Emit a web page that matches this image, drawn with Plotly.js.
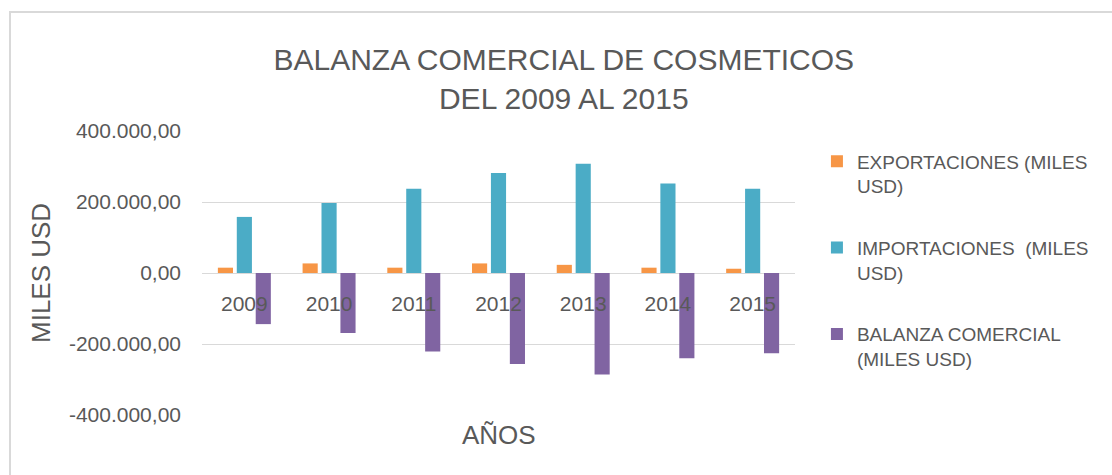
<!DOCTYPE html>
<html>
<head>
<meta charset="utf-8">
<script src="https://cdn.plot.ly/plotly-3.0.1.min.js"></script>
<style>
  html, body { margin: 0; padding: 0; background: #ffffff; }
  #chart { width: 1112px; height: 475px; }
</style>
</head>
<body>
<div id="chart"></div>
<script>
var years = ['2009', '2010', '2011', '2012', '2013', '2014', '2015'];
var exportaciones = [15000, 27000, 15000, 27000, 23000, 15000, 12000];
var importaciones = [158000, 197000, 237000, 282000, 308000, 252000, 237000];
var balanza = [-144000, -169000, -221000, -256000, -286000, -240000, -226000];

var seriesNames = ['EXPORTACIONES (MILES<br>USD)', 'IMPORTACIONES  (MILES<br>USD)', 'BALANZA COMERCIAL<br>(MILES USD)'];
var yTickVals = [-400000, -200000, 0, 200000, 400000];
var yTickText = ['-400.000,00', '-200.000,00', '0,00', '200.000,00', '400.000,00'];
var titleText = 'BALANZA COMERCIAL DE COSMETICOS<br>DEL 2009 AL 2015';
var yTitle = 'MILES USD';
var xTitle = 'AÑOS';

var colors = ['#F79646', '#4BACC6', '#8064A2'];
var FONT = 'Liberation Sans, Arial, sans-serif';
var GREY = '#595959';

var data = [exportaciones, importaciones, balanza].map(function (vals, i) {
  return {
    type: 'bar',
    x: years,
    y: vals,
    name: seriesNames[i],
    legendgroup: 'g' + i,
    marker: { color: colors[i] }
  };
});

var layout = {
  width: 1112,
  height: 475,
  paper_bgcolor: '#ffffff',
  plot_bgcolor: '#ffffff',
  margin: { l: 202, r: 317, t: 131, b: 60 },
  font: { family: FONT, color: GREY },
  title: {
    text: titleText,
    font: { family: FONT, size: 30, color: GREY },
    x: 0.507, xref: 'container', xanchor: 'center',
    y: 1 - 70 / 475, yref: 'container', yanchor: 'middle'
  },
  barmode: 'group',
  bargap: 0.33,
  bargroupgap: 0.2,
  xaxis: {
    type: 'category',
    anchor: 'free',
    position: 0.5,
    showgrid: false,
    showline: false,
    zeroline: false,
    ticks: '',
    ticklabelstandoff: 16,
    tickfont: { family: FONT, size: 21, color: GREY }
  },
  yaxis: {
    range: [-400000, 400000],
    tickvals: yTickVals,
    ticktext: yTickText,
    showgrid: true,
    gridcolor: '#d9d9d9',
    gridwidth: 1,
    zeroline: true,
    zerolinecolor: '#d9d9d9',
    zerolinewidth: 1,
    showline: false,
    ticks: '',
    ticklabelstandoff: 20,
    tickfont: { family: FONT, size: 21, color: GREY }
  },
  legend: {
    x: 1.037, xanchor: 'left',
    y: 0.96, yanchor: 'top',
    valign: 'top',
    traceorder: 'grouped',
    tracegroupgap: 34,
    font: { family: FONT, size: 19, color: GREY },
    bgcolor: 'rgba(0,0,0,0)'
  },
  annotations: [
    {
      text: yTitle, xref: 'paper', yref: 'paper',
      x: (41 - 202) / 593, y: 0.5, xanchor: 'center', yanchor: 'middle',
      textangle: -90, showarrow: false,
      font: { family: FONT, size: 26, color: GREY }
    },
    {
      text: xTitle, xref: 'paper', yref: 'paper',
      x: 0.5, y: (415 - 435) / 284, xanchor: 'center', yanchor: 'middle',
      showarrow: false,
      font: { family: FONT, size: 26, color: GREY }
    }
  ],
  shapes: [
    {
      type: 'rect', xref: 'paper', yref: 'paper',
      x0: (10 - 202) / 593, x1: 2,
      y0: -1, y1: (415 - 12) / 284,
      line: { color: '#d9d9d9', width: 2 },
      fillcolor: 'rgba(0,0,0,0)',
      layer: 'below'
    }
  ]
};

Plotly.newPlot('chart', data, layout, { displayModeBar: false, staticPlot: true });
</script>
</body>
</html>
